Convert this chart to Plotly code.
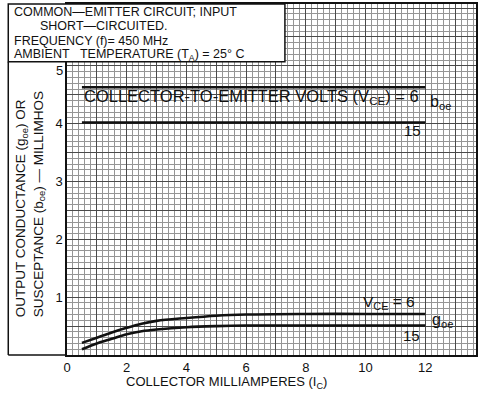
import plotly.graph_objects as go

# ---- data ----
ic_boe = [0.5, 12]
boe_vce6 = [4.63, 4.63]
boe_vce15 = [4.02, 4.02]

ic_goe = [0.5, 1.0, 1.5, 2.0, 2.5, 3.0, 4.0, 5.0, 6.0, 8.0, 10.0, 12.0]
goe_vce6 = [0.21, 0.30, 0.39, 0.47, 0.54, 0.59, 0.64, 0.68, 0.70, 0.71, 0.71, 0.71]
goe_vce15 = [0.10, 0.20, 0.28, 0.36, 0.41, 0.44, 0.48, 0.50, 0.51, 0.51, 0.51, 0.51]

x_tickvals = list(range(0, 14))
x_ticktext = [str(v) if v % 2 == 0 and v <= 12 else "" for v in x_tickvals]
y_tickvals = [i * 0.5 for i in range(0, 13)]
y_ticktext = [str(int(v)) if v in (1, 2, 3, 4) else "" for v in y_tickvals]
y_top_label = "5"

NB = "\u00a0"
header_lines = [
    "COMMON\u2014EMITTER" + NB + "CIRCUIT;" + NB + "INPUT",
    "SHORT\u2014CIRCUITED.",
    "FREQUENCY (f)= 450" + NB + "MHz",
    "AMBIENT" + NB * 3 + "TEMPERATURE" + NB + "(T<sub>A</sub>) = 25\u00b0" + NB + "C",
]

FONT = "Liberation Sans"
INK = "#111111"

fig = go.Figure()
for ys in (boe_vce6, boe_vce15):
    fig.add_trace(go.Scatter(x=ic_boe, y=ys, mode="lines",
                             line=dict(color=INK, width=2.4), showlegend=False, hoverinfo="skip"))
for ys in (goe_vce6, goe_vce15):
    fig.add_trace(go.Scatter(x=ic_goe, y=ys, mode="lines", line_shape="spline",
                             line=dict(color=INK, width=2.6), showlegend=False, hoverinfo="skip"))

fig.update_layout(
    width=480, height=395,
    margin=dict(l=67, r=2, t=3, b=40),
    paper_bgcolor="white", plot_bgcolor="white",
    font=dict(family=FONT, color=INK, size=13),
    xaxis=dict(range=[0, 13.7], tickmode="array", tickvals=x_tickvals, ticktext=x_ticktext,
               showgrid=True, gridcolor="#4a4a4a", gridwidth=1, zeroline=False,
               ticks="", showline=True, linecolor=INK, linewidth=1.5, mirror=True,
               tickfont=dict(size=13),
               minor=dict(tickmode="linear", tick0=0, dtick=0.2, showgrid=True,
                          gridcolor="#959595", gridwidth=1)),
    yaxis=dict(range=[0, 6.07], tickmode="array", tickvals=y_tickvals, ticktext=y_ticktext,
               showgrid=True, gridcolor="#4a4a4a", gridwidth=1, zeroline=False,
               ticks="", showline=True, linecolor=INK, linewidth=1.5, mirror=True,
               tickfont=dict(size=13),
               minor=dict(tickmode="linear", tick0=0, dtick=0.1, showgrid=True,
                          gridcolor="#959595", gridwidth=1)),
)

# header box (top-left) and y-title box
fig.add_shape(type="rect", xref="paper", yref="paper", x0=-0.1436, x1=0.5328, y0=0.8352, y1=1.0,
              fillcolor="white", line=dict(color=INK, width=1.5), layer="above")
fig.add_shape(type="line", xref="paper", yref="paper", x0=-0.1436, x1=-0.1436, y0=0.0, y1=0.8352,
              line=dict(color=INK, width=1.5))
fig.add_shape(type="line", xref="paper", yref="paper", x0=-0.1436, x1=0.0, y0=0.0, y1=0.0,
              line=dict(color=INK, width=1.5))

header_pos = [(-0.1338, 0.9773), (-0.0706, 0.9361), (-0.1338, 0.8949), (-0.1338, 0.8537)]
for txt, (px, py) in zip(header_lines, header_pos):
    fig.add_annotation(text=txt, xref="paper", yref="paper", x=px, y=py,
                       xanchor="left", yanchor="middle", showarrow=False,
                       font=dict(size=12.5, family=FONT, color=INK))

# top y tick label "5", set slightly lower (as in the original) to clear the header box
fig.add_annotation(text=y_top_label, xref="paper", x=0, y=5, yref="y", xanchor="right",
                   yanchor="middle", xshift=-2, yshift=-5, showarrow=False,
                   font=dict(size=13, family=FONT, color=INK))

# y-axis title (rotated two lines)
fig.add_annotation(text="OUTPUT CONDUCTANCE (g<sub>oe</sub>) OR<br>SUSCEPTANCE (b<sub>oe</sub>) \u2014 MILLIMHOS",
                   xref="paper", yref="paper", x=-0.090, y=0.43, textangle=-90,
                   xanchor="center", yanchor="middle", align="left", showarrow=False,
                   font=dict(size=13.5, family=FONT, color=INK))
# x-axis title
fig.add_annotation(text="COLLECTOR MILLIAMPERES (I<sub>C</sub>)",
                   xref="paper", yref="paper", x=0.389, y=-0.077,
                   xanchor="center", yanchor="middle", showarrow=False,
                   font=dict(size=13, family=FONT, color=INK))

# curve labels
labels = [
    ("COLLECTOR-TO-EMITTER VOLTS (V<sub>CE</sub>) = 6", 0.5, 4.47, "left", 16.5),
    ("b<sub>oe</sub>", 12.1, 4.36, "left", 16),
    ("15", 11.57, 3.88, "center", 15),
    ("V<sub>CE</sub> = 6", 10.8, 0.9, "center", 15.5),
    ("g<sub>oe</sub>", 12.17, 0.6, "left", 16),
    ("15", 11.55, 0.34, "center", 15),
]
for txt, x, y, anc, sz in labels:
    fig.add_annotation(text=txt, x=x, y=y, xanchor=anc, yanchor="middle", showarrow=False,
                       font=dict(size=sz, family=FONT, color=INK))

fig.write_html("out.html")
